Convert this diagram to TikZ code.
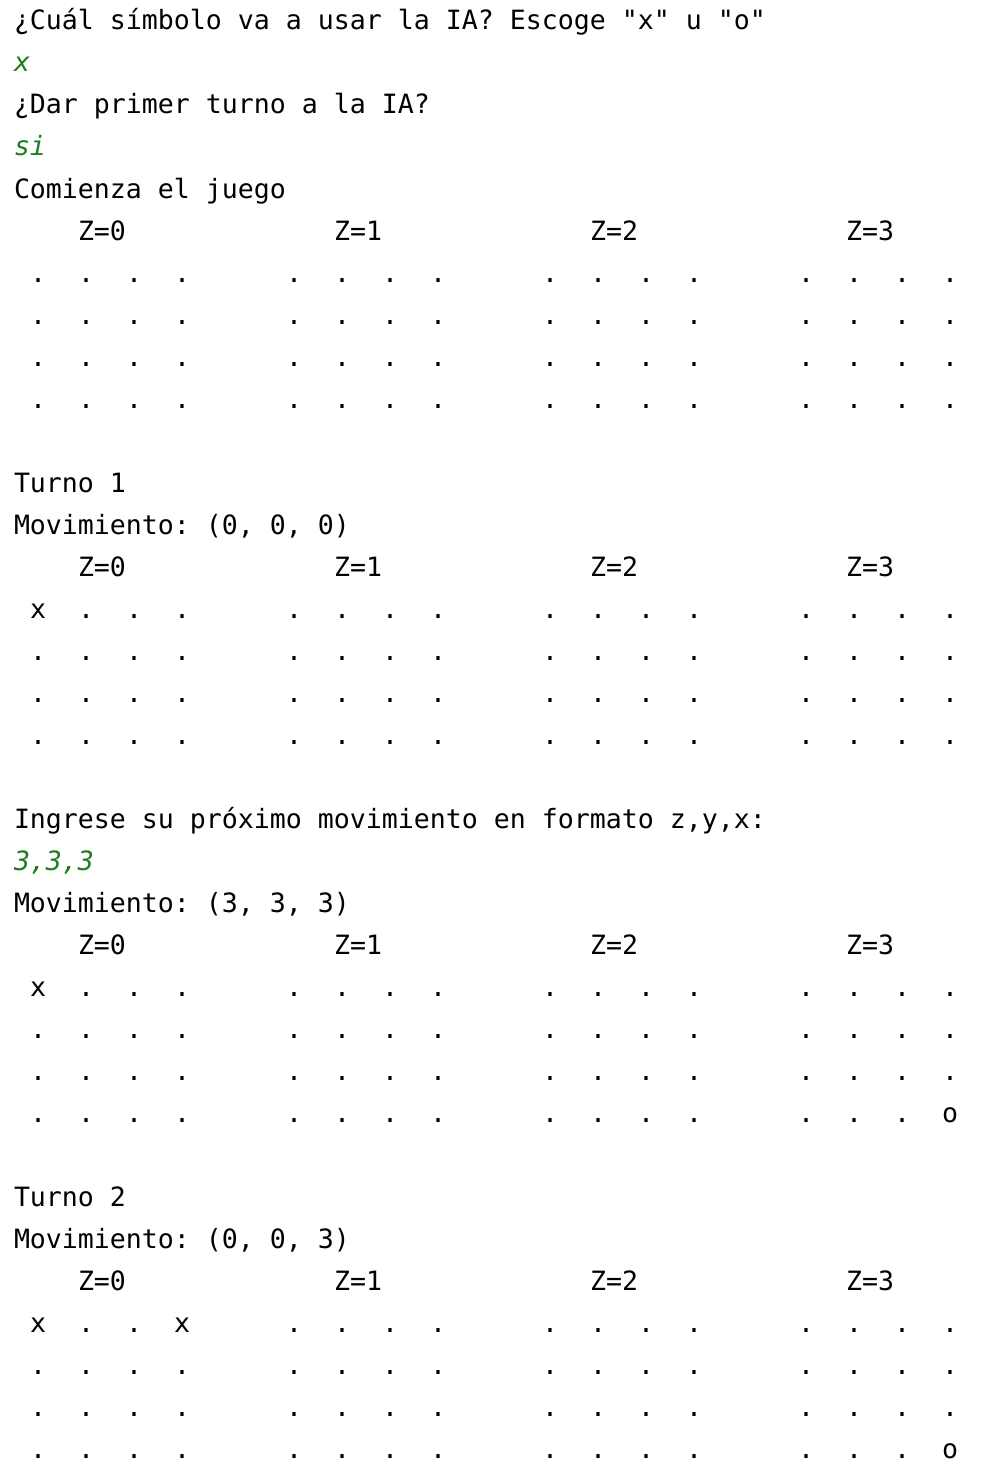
\documentclass[tikz,border=0pt]{standalone}
\usepackage{fontspec}
\newfontfamily\termfont{DejaVu Sans Mono}
\definecolor{inputgreen}{RGB}{30,125,30}
\frenchspacing
\newcommand\setcell[5]{\expandafter\def\csname mycell@#1@#2@#3@#4\endcsname{#5}}
\setcell{B}{0}{0}{0}{x}
\setcell{C}{0}{0}{0}{x}
\setcell{C}{3}{3}{3}{o}
\setcell{D}{0}{0}{0}{x}
\setcell{D}{0}{0}{3}{x}
\setcell{D}{3}{3}{3}{o}
\newcommand\drawboard[2]{% #1 board id, #2 header line
  \foreach \z in {0,...,3}{
    \node[line] (#1-h\z) at ({14+16*(16*\z+4)},{30+42*#2}) {Z=\z};
    \foreach \r in {0,...,3}{
      \foreach \c in {0,...,3}{
        \ifcsname mycell@#1@\z@\r@\c\endcsname
          \edef\ch{\csname mycell@#1@\z@\r@\c\endcsname}%
        \else
          \def\ch{.}%
        \fi
        \node[cell] (#1-\z-\r-\c) at ({14+16*(16*\z+1+3*\c)+8},{30+42*(#2+1+\r)}) {\ch};
      }
    }
  }
}
\tikzset{
  term/.style={inner sep=0pt, outer sep=0pt, font=\termfont\frenchspacing\fontsize{26.575pt}{42pt}\selectfont},
  line/.style={term, anchor=base west, text=black},
  userin/.style={line, text=inputgreen, font=\termfont\frenchspacing\itshape\fontsize{26.575pt}{42pt}\selectfont},
  cell/.style={term, anchor=base, text=black}
}
\begin{document}
\begin{tikzpicture}[x=1pt,y=-1pt]
\useasboundingbox[fill=white] (0,0) rectangle (980,1474);
\node[line] (l0) at (14,{30+42*0}) {¿Cuál símbolo va a usar la IA? Escoge "x" u "o"};
\node[userin] (l1) at (14,{30+42*1}) {x};
\node[line] (l2) at (14,{30+42*2}) {¿Dar primer turno a la IA?};
\node[userin] (l3) at (14,{30+42*3}) {si};
\node[line] (l4) at (14,{30+42*4}) {Comienza el juego};
\drawboard{A}{5}
\node[line] (l11) at (14,{30+42*11}) {Turno 1};
\node[line] (l12) at (14,{30+42*12}) {Movimiento: (0, 0, 0)};
\drawboard{B}{13}
\node[line] (l19) at (14,{30+42*19}) {Ingrese su próximo movimiento en formato z,y,x:};
\node[userin] (l20) at (14,{30+42*20}) {3,3,3};
\node[line] (l21) at (14,{30+42*21}) {Movimiento: (3, 3, 3)};
\drawboard{C}{22}
\node[line] (l28) at (14,{30+42*28}) {Turno 2};
\node[line] (l29) at (14,{30+42*29}) {Movimiento: (0, 0, 3)};
\drawboard{D}{30}
\end{tikzpicture}
\end{document}
